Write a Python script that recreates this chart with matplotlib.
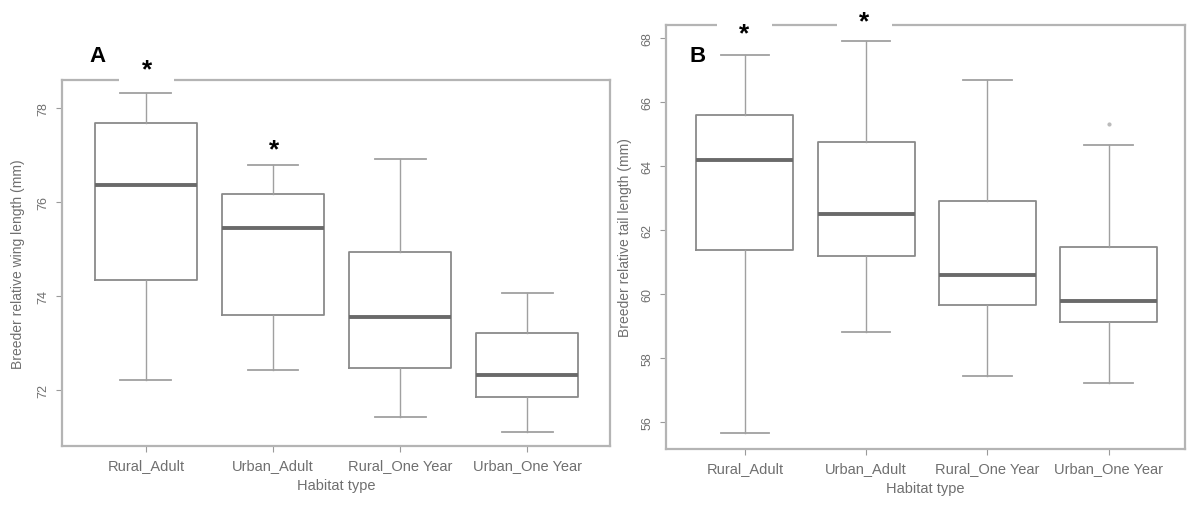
import matplotlib
matplotlib.use("Agg")
import matplotlib.pyplot as plt
from matplotlib.patches import Rectangle

plt.rcParams["font.family"] = ["Liberation Sans", "DejaVu Sans"]

habitats = ["Rural_Adult", "Urban_Adult", "Rural_One Year", "Urban_One Year"]

# panel A - wing length (mm): lower whisker, Q1, median, Q3, upper whisker
wing_low = [72.21, 72.43, 71.43, 71.11]
wing_q1 = [74.34, 73.60, 72.47, 71.85]
wing_med = [76.36, 75.45, 73.55, 72.32]
wing_q3 = [77.68, 76.17, 74.94, 73.21]
wing_high = [78.32, 76.79, 76.91, 74.06]
wing_fliers = [[], [], [], []]

# panel B - tail length (mm)
tail_low = [55.66, 58.81, 57.44, 57.22]
tail_q1 = [61.38, 61.19, 59.66, 59.13]
tail_med = [64.19, 62.50, 60.59, 59.78]
tail_q3 = [65.59, 64.75, 62.91, 61.47]
tail_high = [67.47, 67.91, 66.69, 64.66]
tail_fliers = [[], [], [], [65.31]]

grey_txt = "#6f6f6f"
frame_col = "#b4b4b4"


def make_stats(low, q1, med, q3, high, fliers):
    stats = []
    for i in range(len(habitats)):
        stats.append(dict(whislo=low[i], q1=q1[i], med=med[i], q3=q3[i],
                          whishi=high[i], fliers=fliers[i], label=habitats[i]))
    return stats


def draw_panel(ax, stats, ylabel, ylim, yticks, label_x):
    ax.bxp(stats, widths=0.8, showfliers=True,
           boxprops=dict(color="#8a8a8a", linewidth=1.3),
           whiskerprops=dict(color="#a0a0a0", linewidth=1.0),
           capprops=dict(color="#a0a0a0", linewidth=1.3),
           medianprops=dict(color="#6a6a6a", linewidth=2.8),
           flierprops=dict(marker="o", markersize=2, markerfacecolor="#bbbbbb",
                           markeredgecolor="#bbbbbb"))
    ax.set_ylim(*ylim)
    ax.set_yticks(yticks)
    ax.set_yticklabels([str(t) for t in yticks], rotation=90, va="center")
    ax.set_xticks(range(1, 5))
    ax.set_xticklabels(habitats)
    for s in ax.spines.values():
        s.set_color(frame_col)
        s.set_linewidth(1.6)
    ax.tick_params(axis="both", colors="#9a9a9a", labelcolor=grey_txt, length=4, width=0.8)
    ax.tick_params(axis="y", labelsize=9, pad=5)
    ax.tick_params(axis="x", labelsize=10.5, pad=5)
    ax.set_xlabel("Habitat type", fontsize=10.5, color=grey_txt, labelpad=4)
    ax.set_ylabel(ylabel, fontsize=10, color=grey_txt)
    ax.yaxis.set_label_coords(label_x, 0.5)


fig = plt.figure(figsize=(11.87, 5.06), dpi=100)
W, H = 1187.0, 506.0

axA = fig.add_axes([62 / W, 1 - 447 / H, 548 / W, 366 / H])
axB = fig.add_axes([666 / W, 1 - 450 / H, 519 / W, 424 / H])

draw_panel(axA, make_stats(wing_low, wing_q1, wing_med, wing_q3, wing_high, wing_fliers),
           "Breeder relative wing length (mm)", (70.81, 78.6), [72, 74, 76, 78], -0.068)
draw_panel(axB, make_stats(tail_low, tail_q1, tail_med, tail_q3, tail_high, tail_fliers),
           "Breeder relative tail length (mm)", (55.16, 68.41),
           [56, 58, 60, 62, 64, 66, 68], -0.066)
axA.set_xlim(0.34, 4.65)
axB.set_xlim(0.35, 4.63)

# white patches cutting the top frame behind the asterisks
for (x0, y0, x1, y1) in [(119, 74, 174, 88), (717, 18, 772, 33), (837, 8, 892, 33)]:
    fig.patches.append(Rectangle((x0 / W, 1 - y1 / H), (x1 - x0) / W, (y1 - y0) / H,
                                 transform=fig.transFigure, facecolor="white",
                                 edgecolor="none", zorder=5))

# significance stars and panel letters
stars = [(147, 70), (274, 150), (744, 34), (864, 22)]
for (x, y) in stars:
    fig.text(x / W, 1 - y / H, "*", fontsize=19, fontweight="bold", ha="center",
             va="center", color="black", zorder=6)
fig.text(97 / W, 1 - 57 / H, "A", fontsize=16, fontweight="bold", ha="center",
         va="center", color="black", zorder=6)
fig.text(698 / W, 1 - 57 / H, "B", fontsize=16, fontweight="bold", ha="center",
         va="center", color="black", zorder=6)

fig.savefig("out.png", dpi=100, facecolor="white")
